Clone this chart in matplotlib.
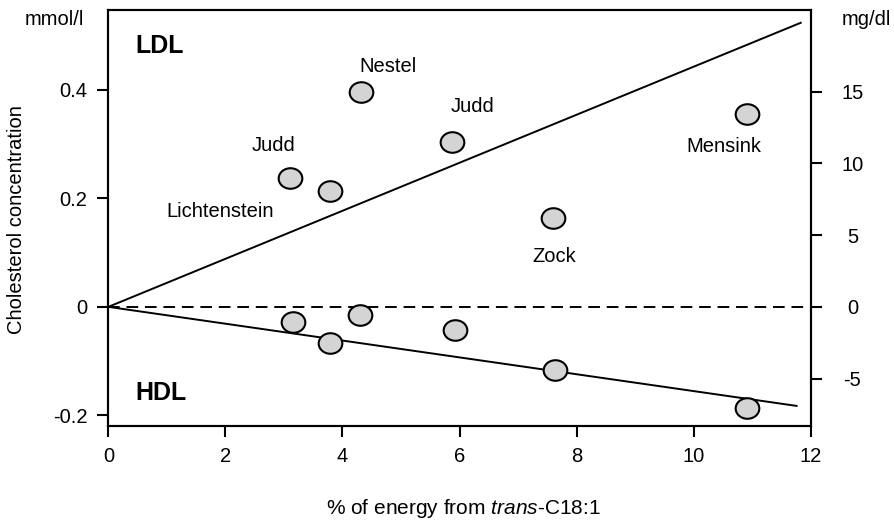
import matplotlib.pyplot as plt
import numpy as np
from matplotlib.path import Path
from matplotlib.transforms import Affine2D

plt.rcParams['font.family'] = ['Liberation Sans', 'DejaVu Sans']
plt.rcParams['mathtext.fontset'] = 'custom'
plt.rcParams['mathtext.rm'] = 'Liberation Sans'
plt.rcParams['mathtext.it'] = 'Liberation Sans:italic'

# study results: % energy from trans-C18:1 vs change in cholesterol (mmol/l)
studies = ["Judd", "Lichtenstein", "Nestel", "Judd", "Zock", "Mensink"]
trans_energy = [3.10, 3.78, 4.32, 5.88, 7.60, 10.92]
ldl_change = [0.237, 0.213, 0.395, 0.304, 0.163, 0.356]
hdl_trans_energy = [3.15, 3.78, 4.30, 5.92, 7.63, 10.91]
hdl_change = [-0.028, -0.067, -0.015, -0.043, -0.117, -0.187]

# regression lines through the origin
ldl_fit_x = [0, 11.83]
ldl_slope = 0.04425
hdl_fit_x = [0, 11.76]
hdl_slope = -0.01552

mg_per_mmol = 37.8
right_ticks = [-5, 0, 5, 10, 15]

# where each study name sits (x centre, baseline)
label_pos = [(2.83, 0.287), (1.91, 0.165), (4.77, 0.433), (6.23, 0.359), (7.62, 0.082), (10.52, 0.285)]

fs = 14.5

fig = plt.figure(figsize=(8.94, 5.21), dpi=100)
ax = fig.add_axes([0.1212, 0.1829, 0.7856, 0.7979])

ellipse = Path.unit_circle().transformed(Affine2D().scale(1.15, 1.0))

ax.axhline(0, color='black', lw=1.4, ls=(0, (6, 3.5)), zorder=1)
ax.plot(ldl_fit_x, [ldl_slope * x for x in ldl_fit_x], color='black', lw=1.4, zorder=2)
ax.plot(hdl_fit_x, [hdl_slope * x for x in hdl_fit_x], color='black', lw=1.4, zorder=2)

ax.scatter(trans_energy, ldl_change, s=290, marker=ellipse, facecolor='#d4d4d4',
           edgecolor='black', linewidth=1.5, zorder=3)
ax.scatter(hdl_trans_energy, hdl_change, s=290, marker=ellipse, facecolor='#d4d4d4',
           edgecolor='black', linewidth=1.5, zorder=3)

for name, (lx, ly) in zip(studies, label_pos):
    ax.text(lx, ly, name, fontsize=fs, ha='center', va='baseline')

ax.text(0.47, 0.468, "LDL", fontsize=18, fontweight='bold', va='baseline')
ax.text(0.47, -0.172, "HDL", fontsize=18, fontweight='bold', va='baseline')

ax.set_xlim(0, 12)
ax.set_ylim(-0.219, 0.547)
ax.set_xticks([0, 2, 4, 6, 8, 10, 12])
ax.set_yticks([-0.2, 0, 0.2, 0.4])
ax.set_yticklabels(["-0.2", "0", "0.2", "0.4"])
ax.tick_params(axis='both', direction='out', length=8, width=1.5, labelsize=fs)
ax.tick_params(axis='x', pad=7)
ax.tick_params(axis='y', pad=7)
for side in ['left', 'bottom', 'right', 'top']:
    ax.spines[side].set_linewidth(1.5)

ax2 = ax.twinx()
ax2.set_ylim(-0.219 * mg_per_mmol, 0.547 * mg_per_mmol)
ax2.set_yticks(right_ticks)
ax2.set_yticklabels([str(t) for t in right_ticks], ha='center')
ax2.tick_params(axis='y', direction='out', length=8, width=1.5, labelsize=fs, pad=22)
for side in ['left', 'bottom', 'right', 'top']:
    ax2.spines[side].set_linewidth(1.5)

fig.text(54 / 894, 1 - 25 / 521, "mmol/l", fontsize=fs, ha='center', va='baseline')
fig.text(866 / 894, 1 - 25 / 521, "mg/dl", fontsize=fs, ha='center', va='baseline')
fig.text(17 / 894, 1 - 220 / 521, "Cholesterol concentration", fontsize=fs, rotation=90,
         ha='center', va='center')
fig.text(463 / 894, 1 - 508 / 521, r"% of energy from $\mathit{trans}$-C18:1", fontsize=15,
         ha='center', va='center')

fig.savefig("out.png", dpi=100)
